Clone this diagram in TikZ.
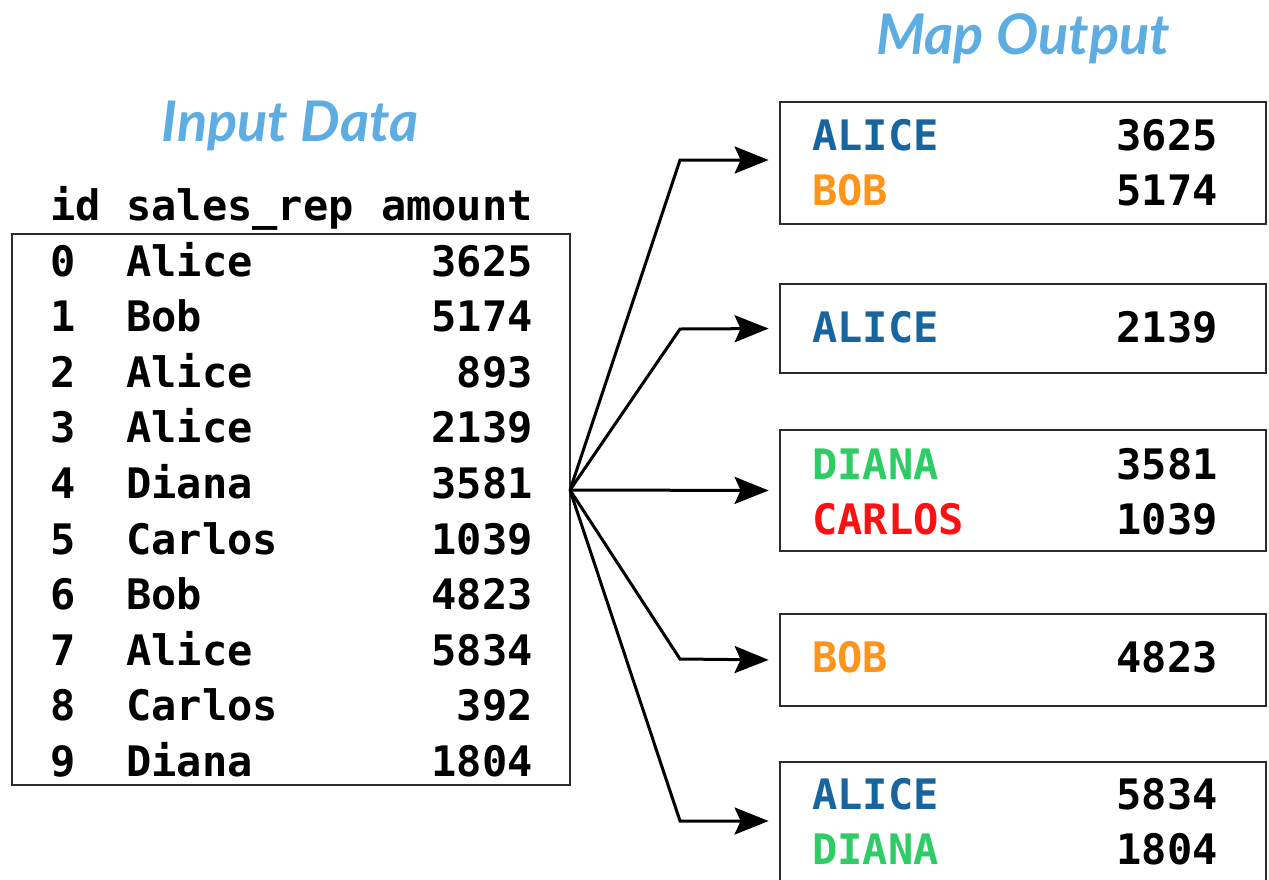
\documentclass[tikz,border=0pt]{standalone}
\usepackage{fontspec}
\setmonofont{DejaVu Sans Mono}
\newfontfamily\titlefont{Lato}
\usetikzlibrary{arrows.meta}
\definecolor{titleblue}{HTML}{5DADE2}
\definecolor{alicec}{HTML}{17649E}
\definecolor{bobc}{HTML}{FF941A}
\definecolor{dianac}{HTML}{2ECC64}
\definecolor{carlosc}{HTML}{FF1010}
\definecolor{framec}{HTML}{2B2B2B}
\tikzset{
  heading/.style={font=\titlefont\bfseries\itshape\fontsize{56}{66}\selectfont, text=titleblue, inner sep=0pt},
  cell/.style={font=\ttfamily\bfseries\fontsize{42}{50}\selectfont, inner sep=0pt},
  frame/.style={draw=framec, line width=2.8pt, inner sep=0pt},
  flow/.style={line width=3pt, -{Stealth[length=34pt,width=27pt,inset=6pt]}, shorten >=10pt},
}
\begin{document}
\begin{tikzpicture}[x=1pt,y=-1pt]
\clip (0,0) rectangle (1269,879);
\fill[white] (0,0) rectangle (1269,879);

% headings
\node[heading] (tin) at (290,126) {Input Data};
\node[heading] (tout) at (1023,39) {Map Output};

% input table
\node[frame, minimum width=558pt, minimum height=551pt] (table) at (291,509.5) {};
\node[cell, anchor=base west] (hid) at (50,220) {id};
\node[cell, anchor=base west] (hrep) at (126,220) {sales\_rep};
\node[cell, anchor=base east] (hamt) at (533,220) {amount};

\foreach \i/\who/\amt in {0/Alice/3625,1/Bob/5174,2/Alice/893,3/Alice/2139,4/Diana/3581,
                          5/Carlos/1039,6/Bob/4823,7/Alice/5834,8/Carlos/392,9/Diana/1804}{
  \pgfmathsetmacro{\yb}{276+55.6*\i}
  \node[cell, anchor=base west] (id\i) at (50,\yb) {\i};
  \node[cell, anchor=base west] (rep\i) at (126,\yb) {\who};
  \node[cell, anchor=base east] (amt\i) at (533,\yb) {\amt};
}

% map output boxes
\node[frame, minimum width=486pt, minimum height=122pt] (out1) at (1023,163) {};
\node[frame, minimum width=486pt, minimum height=89pt] (out2) at (1023,328.5) {};
\node[frame, minimum width=486pt, minimum height=121pt] (out3) at (1023,490.5) {};
\node[frame, minimum width=486pt, minimum height=92pt] (out4) at (1023,660) {};
\node[frame, minimum width=486pt, minimum height=122pt] (out5) at (1023,823) {};

\node[cell, anchor=base west, text=alicec] (k1a) at (812,150) {ALICE};
\node[cell, anchor=base east] (v1a) at (1218,150) {3625};
\node[cell, anchor=base west, text=bobc] (k1b) at (812,205) {BOB};
\node[cell, anchor=base east] (v1b) at (1218,205) {5174};

\node[cell, anchor=base west, text=alicec] (k2a) at (812,342) {ALICE};
\node[cell, anchor=base east] (v2a) at (1218,342) {2139};

\node[cell, anchor=base west, text=dianac] (k3a) at (812,479) {DIANA};
\node[cell, anchor=base east] (v3a) at (1218,479) {3581};
\node[cell, anchor=base west, text=carlosc] (k3b) at (812,534) {CARLOS};
\node[cell, anchor=base east] (v3b) at (1218,534) {1039};

\node[cell, anchor=base west, text=bobc] (k4a) at (812,672) {BOB};
\node[cell, anchor=base east] (v4a) at (1218,672) {4823};

\node[cell, anchor=base west, text=alicec] (k5a) at (812,809) {ALICE};
\node[cell, anchor=base east] (v5a) at (1218,809) {5834};
\node[cell, anchor=base west, text=dianac] (k5b) at (812,864) {DIANA};
\node[cell, anchor=base east] (v5b) at (1218,864) {1804};

% connectors fanning out from the table
\coordinate (split) at (570,490);
\coordinate (in5) at (out5.west |- 0,821);
\draw[flow] (split) -- (680,160) -- (out1.west |- 0,160);
\draw[flow] (split) -- (680,329) -- (out2.west);
\draw[flow] (split) -- (out3.west);
\draw[flow] (split) -- (680,659) -- (out4.west);
\draw[flow] (split) -- (680,821) -- (in5);
\end{tikzpicture}
\end{document}
